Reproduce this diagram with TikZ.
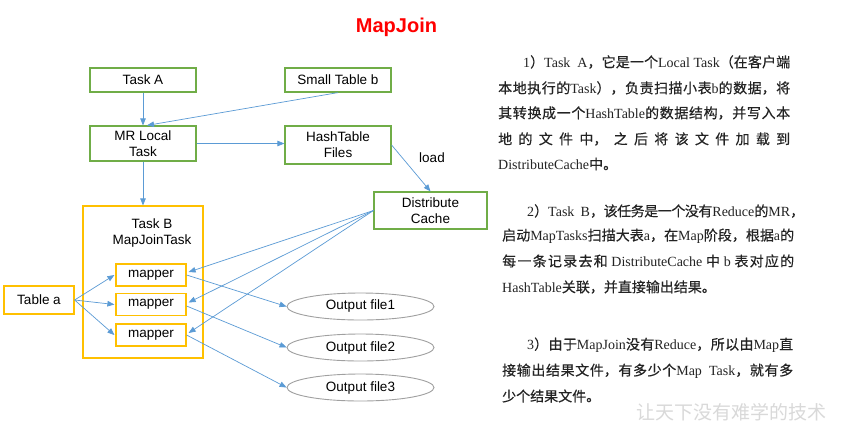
\documentclass[tikz,border=0pt]{standalone}
\usepackage{fontspec}
\setmainfont{Liberation Serif}
\newfontfamily\cjk{Noto Sans CJK SC}[FakeBold=0.4]
\newfontfamily\cjkwm{Noto Sans CJK SC}
\newfontfamily\dia{Liberation Sans}
\usetikzlibrary{arrows.meta,shapes.geometric,calc}
\definecolor{gbox}{RGB}{112,173,71}
\definecolor{obox}{RGB}{255,192,0}
\definecolor{arr}{RGB}{91,155,213}
\definecolor{ellc}{RGB}{160,160,160}
\definecolor{txtc}{RGB}{35,35,35}
\newcommand\zh[1]{{\cjk #1}}
\newcommand\jl[5]{\node[bodytext] (#1) at (#2,#3) {\parbox{#4pt}{\XeTeXlinebreaklocale "zh"\XeTeXlinebreakskip=0pt plus 12pt minus 1.5pt\XeTeXlinebreakpenalty=10000 \parfillskip=0pt\tolerance=10000\hbadness=10000\hfuzz=20pt #5}};}
\tikzset{
  gnode/.style={draw=gbox,line width=1.2pt,minimum width=106pt,align=center,inner sep=1pt,font=\dia\fontsize{13.5}{16}\selectfont},
  onode/.style={draw=obox,line width=1.2pt,align=center,inner sep=1pt,font=\dia\fontsize{13.5}{16}\selectfont},
  enode/.style={draw=ellc,line width=0.9pt,ellipse,minimum width=147pt,minimum height=27pt,inner sep=0pt,font=\dia\fontsize{13.5}{16}\selectfont},
  plain/.style={align=center,inner sep=0pt,font=\dia\fontsize{13.5}{16}\selectfont},
  conn/.style={draw=arr,line width=0.7pt,-{Triangle[length=7pt,width=5.5pt]}},
  bodytext/.style={anchor=west,inner sep=0pt,text=txtc,font=\fontsize{14}{16}\selectfont},
}
\begin{document}
\begin{tikzpicture}[x=1pt,y=-1pt]
\useasboundingbox (0,0) rectangle (842,424);
\fill[white] (0,0) rectangle (842,424);

% title
\node[text=red,font=\dia\bfseries\fontsize{20}{24}\selectfont,inner sep=0pt] (title) at (396.5,27) {MapJoin};

% diagram nodes
\node[gnode,minimum height=24pt] (taskA) at (143,80) {Task A};
\node[gnode,minimum height=24pt] (smallb) at (338,80) {Small Table b};
\node[gnode,minimum height=35pt] (mrlocal) at (143,143.5) {MR Local\\Task};
\node[gnode,minimum height=38pt] (hash) at (338,145) {HashTable\\Files};
\node[gnode,minimum width=113pt,minimum height=37pt] (dcache) at (430.5,210.5) {Distribute\\Cache};
\node[plain] (load) at (432,158) {load};

\node[onode,minimum width=120pt,minimum height=152pt] (taskB) at (143,282) {};
\node[plain] (taskBlbl) at (152,233.5) {Task B\\MapJoinTask};
\node[onode,minimum width=70pt,minimum height=22pt] (m1) at (151,275) {mapper};
\node[onode,minimum width=70pt,minimum height=22pt] (m2) at (151,304.5) {mapper};
\node[onode,minimum width=70pt,minimum height=22pt] (m3) at (151,335) {mapper};
\node[onode,minimum width=70pt,minimum height=28pt] (tablea) at (39,300) {Table a};

\node[enode] (o1) at (360.5,306.5) {Output file1};
\node[enode] (o2) at (360.5,347.5) {Output file2};
\node[enode] (o3) at (360.5,387.5) {Output file3};

% connectors
\draw[conn] (taskA.south) -- (mrlocal.north);
\draw[conn] (smallb.south) -- ([xshift=4pt]mrlocal.north);
\draw[conn] (mrlocal.east) -- (mrlocal.east -| hash.west);
\draw[conn] (hash.east) -- (dcache.north);
\draw[conn] (mrlocal.south) -- (taskB.north);
\draw[conn] (dcache.west) -- ([xshift=2pt,yshift=3pt]m1.east);
\draw[conn] (dcache.west) -- ([xshift=2pt,yshift=2pt]m2.east);
\draw[conn] (dcache.west) -- ([xshift=2pt,yshift=2pt]m3.east);
\draw[conn] (tablea.east) -- ([xshift=-1pt]m1.west);
\draw[conn] (tablea.east) -- ([xshift=-1pt]m2.west);
\draw[conn] (tablea.east) -- ([xshift=-1pt]m3.west);
\draw[conn] (m1.east) -- (o1.west);
\draw[conn] ([yshift=-1.5pt]m2.east) -- (o2.west);
\draw[conn] (m3.east) -- (o3.west);

% right column text
\jl{p1a}{523}{62}{267}{1\zh{）}Task~~A\zh{，它是一个}Local~Task\zh{（在客户端}}
\jl{p1b}{498}{88}{292}{\zh{本地执行的}Task\zh{），负责扫描小表}b\zh{的数据，将}}
\jl{p1c}{498}{113}{292}{\zh{其转换成一个}HashTable\zh{的数据结构，并写入本}}
\jl{p1d}{498}{139}{292}{\zh{地的文件中，之后将该文件加载到}}
\node[bodytext] (p1e) at (498,164) {DistributeCache\zh{中。}};

\jl{p2a}{527}{211}{277}{2\zh{）}Task~~B\zh{，该任务是一个没有}Reduce\zh{的}MR\zh{，}}
\jl{p2b}{502}{236}{292}{\zh{启动}MapTasks\zh{扫描大表}a\zh{，在}Map\zh{阶段，根据}a\zh{的}}
\jl{p2c}{502}{261}{292}{\zh{每一条记录去和}~DistributeCache~\zh{中}~b~\zh{表对应的}}
\node[bodytext] (p2d) at (502,287) {HashTable\zh{关联，并直接输出结果。}};

\jl{p3a}{527}{345}{266}{3\zh{）由于}MapJoin\zh{没有}Reduce\zh{，所以由}Map\zh{直}}
\jl{p3b}{502}{371}{291}{\zh{接输出结果文件，有多少个}Map~~Task\zh{，就有多}}
\node[bodytext] (p3c) at (502,396) {\zh{少个结果文件。}};

% watermark
\node[inner sep=0pt,text=black!15,font=\cjkwm\fontsize{19}{20}\selectfont] (wm) at (731,412) {让天下没有难学的技术};
\end{tikzpicture}
\end{document}
